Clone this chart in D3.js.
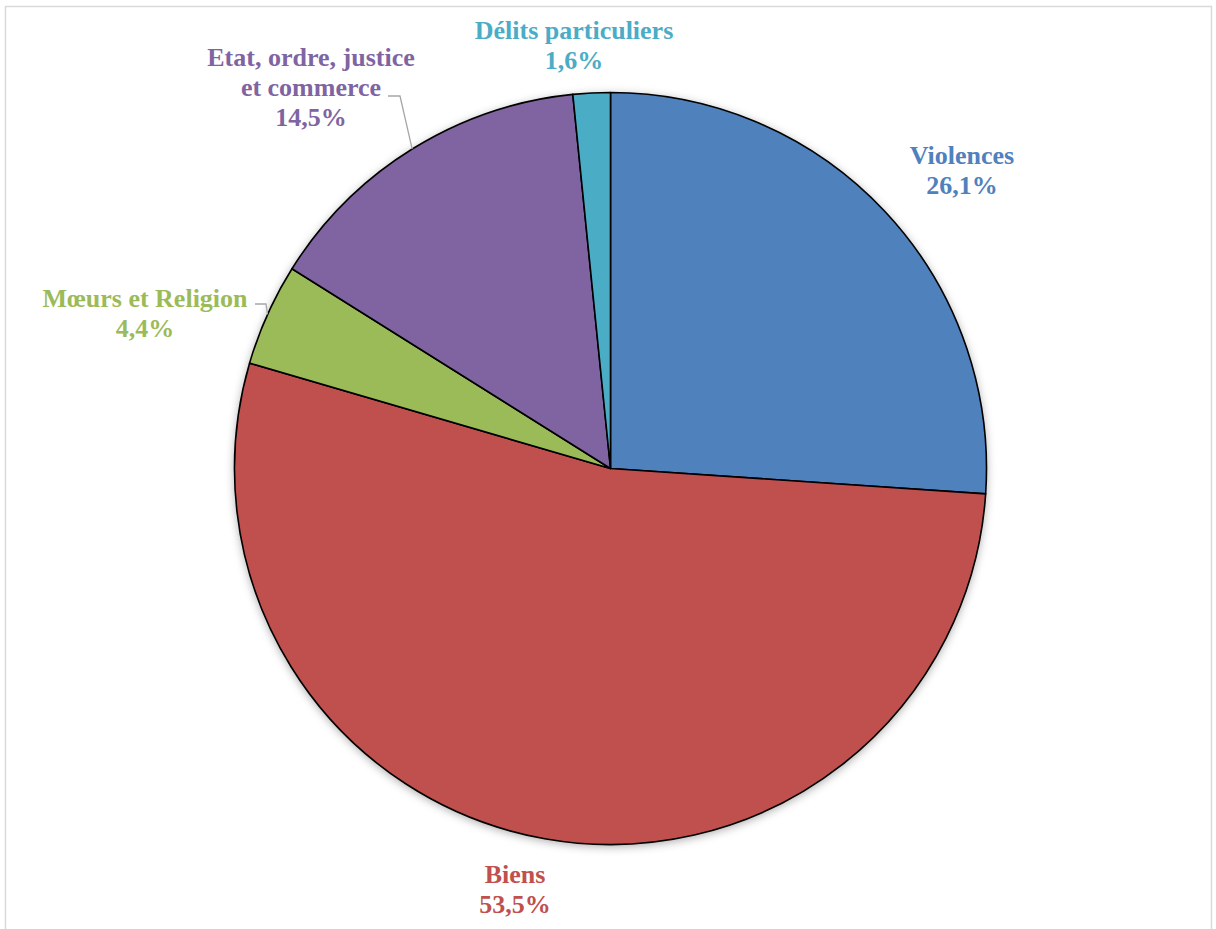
<!DOCTYPE html>
<html>
<head>
<meta charset="utf-8">
<script src="https://cdn.jsdelivr.net/npm/d3@7"></script>
<style>
html,body{margin:0;padding:0;background:#fff;}
svg{display:block;}
</style>
</head>
<body>
<script>
const categories = ["Violences", "Biens", "Mœurs et Religion", "Etat, ordre, justice et commerce", "Délits particuliers"];
const values = [26.1, 53.5, 4.4, 14.5, 1.6];
const colors = ["#4F81BD", "#C0504D", "#9BBB59", "#8064A2", "#4BACC6"];
const labelLines = [["Violences"], ["Biens"], ["Mœurs et Religion"], ["Etat, ordre, justice", "et commerce"], ["Délits particuliers"]];
const labelPos = [[962, 164], [515, 883], [145, 307], [311, 66], [574, 39]];
const leaderElbow = [null, null, [266, 304], [400, 96], null];
const leaderStart = [null, null, [255, 304], [388, 96], null];

const W = 1216, H = 929;
const cx = 610.5, cy = 468.5, R = 376;

const svg = d3.select("body").append("svg").attr("width", W).attr("height", H);

const defs = svg.append("defs");
const f = defs.append("filter").attr("id", "sh").attr("x", "-10%").attr("y", "-10%").attr("width", "120%").attr("height", "120%");
f.append("feDropShadow").attr("dx", 0).attr("dy", 2).attr("stdDeviation", 5).attr("flood-color", "#000").attr("flood-opacity", 0.35);

svg.append("rect").attr("x", 5.5).attr("y", 6.5).attr("width", 1206).attr("height", 940)
  .attr("fill", "#fff").attr("stroke", "#D9D9D9").attr("stroke-width", 1.5);

const pie = d3.pie().sort(null).value(d => d)(values);
const arc = d3.arc().innerRadius(0).outerRadius(R);

const g = svg.append("g").attr("transform", `translate(${cx},${cy})`);
const shadowG = g.append("g").attr("filter", "url(#sh)");
shadowG.append("circle").attr("r", R).attr("fill", "#fff");
g.selectAll("path.slice").data(pie).enter().append("path")
  .attr("class", "slice")
  .attr("d", arc)
  .attr("fill", (d, i) => colors[i])
  .attr("stroke", "#000")
  .attr("stroke-width", 1.6)
  .attr("stroke-linejoin", "round");

// leader lines
pie.forEach((d, i) => {
  if (!leaderElbow[i]) return;
  const a = (d.startAngle + d.endAngle) / 2;
  const px = cx + R * Math.sin(a), py = cy - R * Math.cos(a);
  svg.append("polyline")
    .attr("points", [leaderStart[i], leaderElbow[i], [px, py]].map(p => p.join(",")).join(" "))
    .attr("fill", "none").attr("stroke", "#A6A6A6").attr("stroke-width", 1.3);
});

// labels
const fmt = v => v.toFixed(1).replace(".", ",") + "%";
pie.forEach((d, i) => {
  const lines = labelLines[i].concat([fmt(values[i])]);
  const t = svg.append("text")
    .attr("x", labelPos[i][0]).attr("y", labelPos[i][1])
    .attr("text-anchor", "middle")
    .attr("font-family", "'Liberation Serif','Times New Roman',serif")
    .attr("font-weight", "bold")
    .attr("font-size", 26)
    .attr("fill", colors[i]);
  lines.forEach((l, k) => {
    t.append("tspan").attr("x", labelPos[i][0]).attr("dy", k === 0 ? 0 : 30).text(l);
  });
});
</script>
</body>
</html>
